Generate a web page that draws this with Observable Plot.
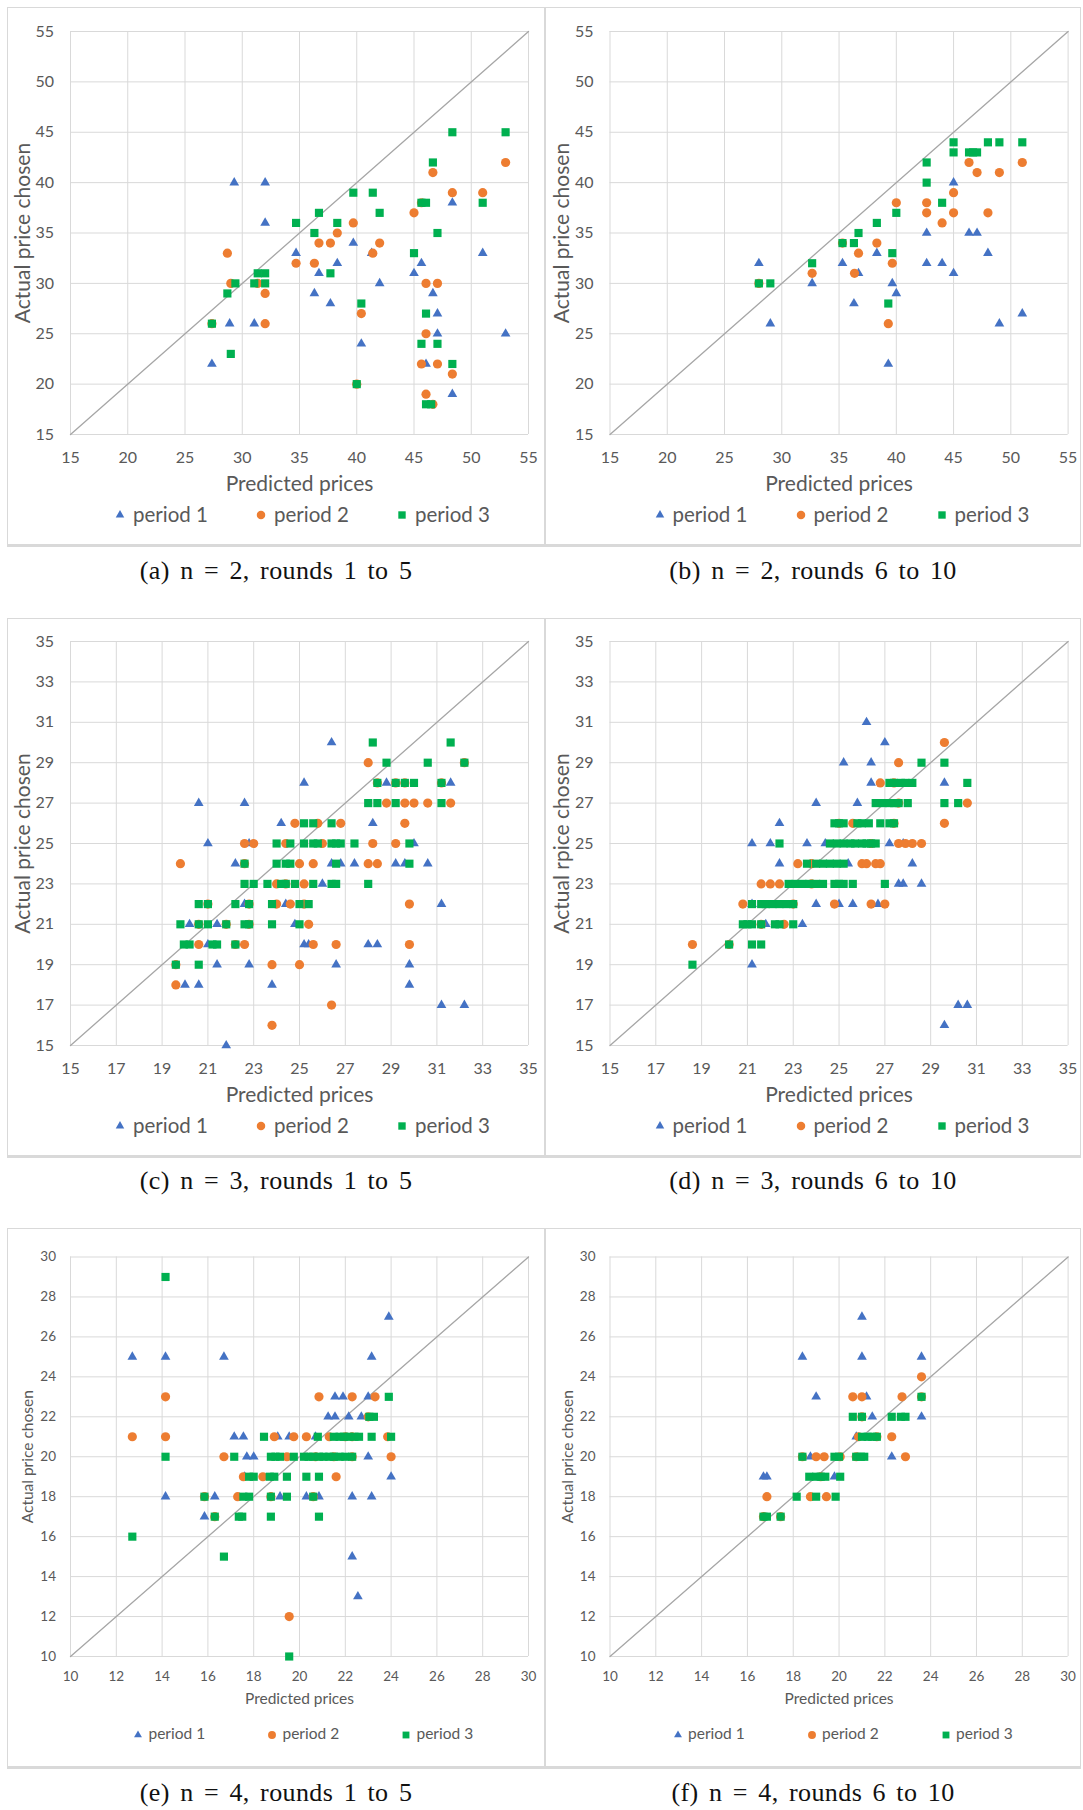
<!DOCTYPE html>
<html><head><meta charset="utf-8">
<script src="https://cdn.jsdelivr.net/npm/d3@7"></script>
<script src="https://cdn.jsdelivr.net/npm/@observablehq/plot@0.6"></script>
<style>
body{margin:0;background:#fff;}
#page{position:relative;width:1083px;height:1810px;background:#fff;overflow:hidden;font-family:Lato,sans-serif;}
.box{position:absolute;border:1px solid #d9d9d9;border-bottom-width:3px;box-sizing:border-box;pointer-events:none;z-index:2;}
.cap{position:absolute;font-family:"Liberation Serif",serif;font-size:26px;color:#111;white-space:nowrap;transform:translate(-50%,-50%);letter-spacing:0.4px;word-spacing:3.5px;}
.leg{position:absolute;color:#595959;white-space:nowrap;transform:translateY(-50%);line-height:1;}
</style></head><body><div id="page"></div>
<script>
// ---------- data ----------
const periods = ["period 1", "period 2", "period 3"];
const colors = ["#4472C4", "#ED7D31", "#00B050"];
const symbols = ["triangle", "circle", "square"];
const ticksN2 = [15, 20, 25, 30, 35, 40, 45, 50, 55];
const ticksN3 = [15, 17, 19, 21, 23, 25, 27, 29, 31, 33, 35];
const ticksN4 = [10, 12, 14, 16, 18, 20, 22, 24, 26, 28, 30];
const xTitle = "Predicted prices";
const yTitles = ["Actual price chosen", "Actual price chosen", "Actual price chosen", "Actual rpice chosen", "Actual price chosen", "Actual price chosen"];
const captions = ["(a) n = 2, rounds 1 to 5", "(b) n = 2, rounds 6 to 10", "(c) n = 3, rounds 1 to 5", "(d) n = 3, rounds 6 to 10", "(e) n = 4, rounds 1 to 5", "(f) n = 4, rounds 6 to 10"];

// (a) n=2, rounds 1-5
const a_p1 = [[29.3,40],[32,40],[32,36],[34.7,33],[36.7,31],[36.3,29],[37.7,28],[38.3,32],[39.7,34],[41.3,33],[42,30],[40.4,24],[27.35,22],[28.9,26],[31.05,26],[45,31],[45.65,32],[46.65,29],[47.05,27],[47.05,25],[46.05,22],[48.35,38],[48.35,19],[51,33],[53,25]];
const a_p2 = [[28.7,33],[29,30],[31.35,30],[32,29],[32,26],[27.35,26],[34.7,32],[36.3,32],[36.7,34],[37.7,34],[38.3,35],[39.7,36],[41.4,33],[42,34],[40.4,27],[40,20],[45,37],[45.65,38],[46.65,41],[46.05,30],[47.05,30],[46.05,25],[45.65,22],[47.05,22],[46.05,19],[46.65,18],[48.35,39],[48.35,21],[51,39],[53,42]];
const a_p3 = [[27.35,26],[28.7,29],[29,23],[29.4,30],[31.05,30],[31.35,31],[32,31],[32,30],[34.7,36],[36.3,35],[36.7,37],[37.7,31],[38.3,36],[39.7,39],[41.4,39],[42,37],[40.4,28],[40,20],[45,33],[45.65,38],[46.05,38],[46.65,42],[47.05,35],[46.05,27],[45.65,24],[47.05,24],[46.05,18],[46.5,18],[48.35,45],[48.35,22],[51,38],[53,45]];
// (b) n=2, rounds 6-10
const b_p1 = [[28,32],[29,26],[32.65,30],[35.3,32],[36.3,28],[36.7,31],[38.3,33],[39.65,30],[40,29],[39.3,22],[42.65,35],[42.65,32],[44,32],[45,40],[45,31],[46.35,35],[47.05,35],[48,33],[49,26],[51,27]];
const b_p2 = [[28,30],[32.65,31],[36.35,31],[36.7,33],[38.3,34],[39.65,32],[40,38],[39.3,26],[42.65,38],[42.65,37],[44,36],[45,39],[45,37],[46.35,42],[47.05,41],[48,37],[49,41],[51,42],[35.3,34]];
const b_p3 = [[28,30],[29,30],[32.65,32],[35.3,34],[36.3,34],[36.7,35],[38.3,36],[39.65,33],[40,37],[39.3,28],[42.65,42],[42.65,40],[44,38],[45,44],[45,43],[46.35,43],[46.7,43],[47.05,43],[48,44],[49,44],[51,44]];
// (c) n=3, rounds 1-5
const c_p1 = [[26.4,30],[25.2,28],[28.8,28],[31.6,28],[20.6,27],[22.6,27],[24.2,26],[28.2,26],[21,25],[22.8,25],[30,25],[22.2,24],[26.4,24],[26.8,24],[27.4,24],[29.2,24],[29.6,24],[30.6,24],[26,23],[22.6,22],[24.4,22],[31.2,22],[20.2,21],[21.4,21],[24.8,21],[21,20],[25.2,20],[25.4,20],[28,20],[28.4,20],[21.4,19],[22.8,19],[26.6,19],[29.8,19],[20,18],[20.6,18],[23.8,18],[29.8,18],[31.2,17],[32.2,17],[21.8,15]];
const c_p2 = [[28,29],[32.2,29],[28.4,28],[29.2,28],[29.6,28],[31.2,28],[28.8,27],[29.6,27],[30,27],[30.6,27],[31.6,27],[24.8,26],[25.8,26],[26.8,26],[29.6,26],[22.6,25],[23,25],[24.4,25],[26,25],[28.2,25],[29.2,25],[19.8,24],[22.6,24],[25,24],[25.6,24],[28,24],[28.4,24],[24,23],[24.4,23],[25.2,23],[21,22],[22.8,22],[24,22],[24.6,22],[25.2,22],[29.8,22],[20.6,21],[21.8,21],[22.8,21],[25.4,21],[20.6,20],[22.2,20],[22.6,20],[25.6,20],[26.6,20],[29.8,20],[19.6,19],[23.8,19],[25,19],[19.6,18],[26.4,17],[23.8,16]];
const c_p3 = [[28.2,30],[31.6,30],[28.8,29],[30.6,29],[32.2,29],[28.4,28],[29.2,28],[29.6,28],[30,28],[31.2,28],[28,27],[28.4,27],[29.2,27],[31.2,27],[25.2,26],[25.6,26],[26.4,26],[24,25],[24.6,25],[25.2,25],[25.6,25],[25.8,25],[26.4,25],[26.6,25],[26.8,25],[27.4,25],[29.8,25],[22.6,24],[24,24],[24.4,24],[24.6,24],[26.6,24],[29.8,24],[22.6,23],[23,23],[23.6,23],[24.2,23],[24.4,23],[24.8,23],[25.6,23],[26.4,23],[26.6,23],[28,23],[20.6,22],[21,22],[22.2,22],[22.8,22],[23.8,22],[25,22],[25.4,22],[19.8,21],[20.6,21],[21,21],[21.8,21],[22.6,21],[22.8,21],[23.8,21],[25,21],[19.95,20],[20.2,20],[21.2,20],[21.4,20],[22.2,20],[19.6,19],[20.6,19]];
// (d) n=3, rounds 6-10
const d_p1 = [[26.2,31],[27,30],[25.2,29],[26.4,29],[26.4,28],[29.6,28],[24,27],[25.8,27],[22.4,26],[21.2,25],[22,25],[23.6,25],[24.4,25],[27.2,25],[27.8,25],[22.4,24],[25.4,24],[28.2,24],[27.6,23],[27.8,23],[28.6,23],[21.2,22],[24,22],[25,22],[25.6,22],[26.7,22],[21.8,21],[23.4,21],[21.2,19],[30.2,17],[30.6,17],[29.6,16]];
const d_p2 = [[29.6,30],[27.6,29],[26.8,28],[27.4,28],[27.6,27],[30.6,27],[25,26],[25.6,26],[27.4,26],[29.6,26],[26.4,25],[27.6,25],[27.9,25],[28.2,25],[28.6,25],[23.2,24],[23.8,24],[26,24],[26.2,24],[26.6,24],[26.8,24],[21.6,23],[22,23],[22.4,23],[23.8,23],[20.8,22],[23,22],[24.8,22],[26.4,22],[27,22],[21.6,21],[22.6,21],[18.6,20],[20.2,20]];
const d_p3 = [[28.6,29],[29.6,29],[27.2,28],[27.4,28],[27.7,28],[27.9,28],[28.2,28],[30.6,28],[26.6,27],[26.9,27],[27.2,27],[27.4,27],[27.6,27],[28,27],[29.6,27],[30.2,27],[24.8,26],[25,26],[25.2,26],[25.8,26],[26,26],[26.3,26],[26.8,26],[27.2,26],[27.4,26],[22.4,25],[24.6,25],[24.9,25],[25.2,25],[25.5,25],[25.7,25],[26,25],[26.2,25],[26.4,25],[26.6,25],[23.6,24],[24,24],[24.3,24],[24.6,24],[24.9,24],[25.2,24],[22.8,23],[23.1,23],[23.4,23],[23.7,23],[24,23],[24.3,23],[24.8,23],[25,23],[25.2,23],[25.6,23],[27,23],[21.2,22],[21.6,22],[21.8,22],[22.1,22],[22.4,22],[22.7,22],[23,22],[20.8,21],[21,21],[21.2,21],[21.6,21],[22.2,21],[22.4,21],[23,21],[20.2,20],[21.2,20],[21.6,20],[18.6,19]];
// (e) n=4, rounds 1-5
const e_p1 = [[23.9,27],[12.7,25],[14.15,25],[16.7,25],[23.15,25],[21.55,23],[21.9,23],[23,23],[21.25,22],[21.55,22],[22.15,22],[22.7,22],[17.15,21],[17.55,21],[19.05,21],[19.55,21],[20.7,21],[17.7,20],[18,20],[23,20],[17.6,19],[24,19],[14.15,18],[16.3,18],[19.15,18],[20.3,18],[20.85,18],[22.3,18],[23.15,18],[15.85,17],[22.3,15],[22.55,13]];
const e_p2 = [[14.15,23],[20.85,23],[22.3,23],[23.3,23],[23,22],[12.7,21],[14.15,21],[18.9,21],[19.75,21],[20.3,21],[21.3,21],[22,21],[22.3,21],[23.85,21],[16.7,20],[19.45,20],[20.7,20],[21.5,20],[22.3,20],[24,20],[17.55,19],[18.4,19],[21.6,19],[15.85,18],[17.3,18],[18.75,18],[20.6,18],[16.3,17],[19.55,12]];
const e_p3 = [[14.15,29],[23.9,23],[23.05,22],[23.25,22],[18.45,21],[20.8,21],[21.5,21],[21.75,21],[21.95,21],[22.15,21],[22.4,21],[22.6,21],[23.15,21],[24,21],[14.15,20],[17.15,20],[18.75,20],[18.95,20],[19.15,20],[19.75,20],[20.2,20],[20.4,20],[20.6,20],[20.85,20],[21.05,20],[21.3,20],[21.5,20],[21.75,20],[22,20],[22.3,20],[17.8,19],[18,19],[18.7,19],[18.9,19],[19.45,19],[20.3,19],[20.85,19],[15.85,18],[17.55,18],[17.8,18],[18.75,18],[19.45,18],[20.6,18],[16.3,17],[17.35,17],[17.5,17],[18.75,17],[20.85,17],[12.7,16],[16.7,15],[19.55,10]];
// (f) n=4, rounds 6-10
const f_p1 = [[21,27],[18.4,25],[21,25],[23.6,25],[19,23],[21.2,23],[21.45,22],[23.6,22],[20.75,21],[18.75,20],[22.3,20],[16.7,19],[16.85,19],[19.8,19]];
const f_p2 = [[23.6,24],[20.6,23],[21,23],[22.75,23],[23.6,23],[21,22],[20.85,21],[21.65,21],[22.3,21],[18.4,20],[19,20],[19.35,20],[20.05,20],[20.75,20],[22.9,20],[19.2,19],[16.85,18],[18.75,18],[19.45,18],[16.7,17],[17.45,17]];
const f_p3 = [[23.6,23],[20.6,22],[21,22],[22.3,22],[22.7,22],[22.9,22],[21,21],[21.25,21],[21.45,21],[21.65,21],[18.4,20],[19.8,20],[20,20],[20.75,20],[20.95,20],[21.1,20],[18.7,19],[19,19],[19.2,19],[19.4,19],[20.05,19],[18.15,18],[19,18],[19.85,18],[16.7,17],[16.85,17],[17.45,17]];

// ---------- layout ----------
const cols = [
  {svgLeft: 0, width: 545, ml: 70, mr: 17, boxL: 7, boxR: 545},
  {svgLeft: 545, width: 538, ml: 64.5, mr: 15.4, boxL: 545, boxR: 1081}
];
const rows = [
  {svgTop: 0, height: 500, mt: 31, mb: 66, boxT: 7, boxB: 547, cap: 571, big: true},
  {svgTop: 610, height: 500, mt: 31, mb: 65, boxT: 618, boxB: 1158, cap: 1181, big: true},
  {svgTop: 1220, height: 500, mt: 36.5, mb: 64, boxT: 1228, boxB: 1769, cap: 1793, big: false}
];
const panels = [
  {col: 0, row: 0, ticks: ticksN2, series: [a_p1, a_p2, a_p3]},
  {col: 1, row: 0, ticks: ticksN2, series: [b_p1, b_p2, b_p3]},
  {col: 0, row: 1, ticks: ticksN3, series: [c_p1, c_p2, c_p3]},
  {col: 1, row: 1, ticks: ticksN3, series: [d_p1, d_p2, d_p3]},
  {col: 0, row: 2, ticks: ticksN4, series: [e_p1, e_p2, e_p3]},
  {col: 1, row: 2, ticks: ticksN4, series: [f_p1, f_p2, f_p3]}
];
const markR = [3.6, 4.6, 4.6];
const gray = "#595959";

const page = document.getElementById("page");

function legendSymbol(i, big) {
  const s = big ? 1.05 : 0.9;
  const sizes = [30 * s, 54 * s, 52 * s];
  const types = [d3.symbolTriangle, d3.symbolCircle, d3.symbolSquare];
  const path = d3.symbol(types[i], sizes[i])();
  return `<svg width="14" height="14" viewBox="-7 -7 14 14" style="display:block"><path d="${path}" fill="${colors[i]}"/></svg>`;
}

panels.forEach((p, k) => {
  const c = cols[p.col], r = rows[p.row], big = r.big;
  const dom = [p.ticks[0], p.ticks[p.ticks.length - 1]];
  const fsTick = big ? 16 : 13.5;
  const fsTitle = big ? 21 : 15.5;
  const svg = Plot.plot({
    width: c.width, height: r.height,
    marginLeft: c.ml, marginRight: c.mr, marginTop: r.mt, marginBottom: r.mb,
    style: {background: "transparent", fontFamily: "Lato, sans-serif", fontSize: fsTick + "px", overflow: "visible"},
    x: {domain: dom},
    y: {domain: dom},
    marks: [
      Plot.gridX(p.ticks, {stroke: "#d9d9d9", strokeOpacity: 1, strokeWidth: 1}),
      Plot.gridY(p.ticks, {stroke: "#d9d9d9", strokeOpacity: 1, strokeWidth: 1}),
      Plot.line(dom.map(v => [v, v]), {x: d => d[0], y: d => d[1], stroke: "#a6a6a6", strokeWidth: 1.3}),
      Plot.axisX(p.ticks, {tickSize: 0, tickPadding: big ? 17 : 15, fontSize: fsTick, color: gray, label: null}),
      Plot.axisY(p.ticks, {tickSize: 0, tickPadding: big ? 16.5 : 14.5, fontSize: fsTick, color: gray, label: null}),
      Plot.text([xTitle], {frameAnchor: "bottom", lineAnchor: "middle", textAnchor: "middle", dy: big ? 50 : 42.6, text: d => d, fontSize: fsTitle, fill: gray}),
      Plot.text([yTitles[k]], {frameAnchor: "left", lineAnchor: "middle", textAnchor: "middle", dx: big ? -47.5 : -42.2, rotate: -90, text: d => d, fontSize: fsTitle, fill: gray}),
      ...p.series.map((s, i) => Plot.dot(s, {x: d => d[0], y: d => d[1], symbol: symbols[i], fill: colors[i], r: markR[i]}))
    ]
  });
  svg.style.position = "absolute";
  svg.style.left = c.svgLeft + "px";
  svg.style.top = r.svgTop + "px";
  page.appendChild(svg);

  // panel frame
  const box = document.createElement("div");
  box.className = "box";
  Object.assign(box.style, {left: c.boxL + "px", top: r.boxT + "px", width: (c.boxR - c.boxL) + "px", height: (r.boxB - r.boxT) + "px"});
  page.appendChild(box);

  // legend
  const plotL = c.svgLeft + c.ml, plotR = c.svgLeft + c.width - c.mr;
  const cx = (plotL + plotR) / 2;
  const plotB = r.svgTop + r.height - r.mb;
  const ly = plotB + (big ? 81 : 79.4);
  const offs = big ? [-179, -38, 103] : [-161, -27, 107];
  periods.forEach((name, i) => {
    const mx = cx + offs[i];
    const m = document.createElement("div");
    m.className = "leg";
    m.style.left = (mx - 7) + "px";
    m.style.top = ly + "px";
    m.innerHTML = legendSymbol(i, big);
    page.appendChild(m);
    const t = document.createElement("div");
    t.className = "leg";
    t.style.left = (mx + (big ? 13 : 10.5)) + "px";
    t.style.top = (ly - 1) + "px";
    t.style.fontSize = (big ? 20.5 : 15.5) + "px";
    t.textContent = name;
    page.appendChild(t);
  });

  // caption
  const cap = document.createElement("div");
  cap.className = "cap";
  cap.style.left = ((c.boxL + c.boxR) / 2) + "px";
  cap.style.top = r.cap + "px";
  cap.textContent = captions[k];
  page.appendChild(cap);
});
</script></body></html>
